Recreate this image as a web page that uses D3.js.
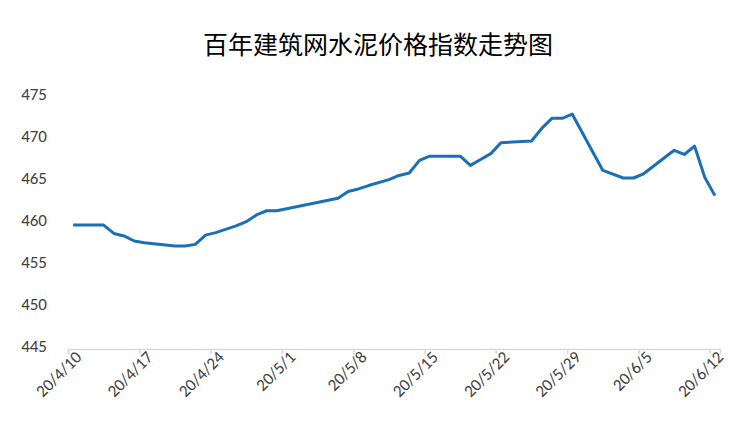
<!DOCTYPE html>
<html><head><meta charset="utf-8">
<script src="https://cdn.jsdelivr.net/npm/d3@7/dist/d3.min.js"></script>
<style>body{margin:0;background:#fff}svg{font-family:"Microsoft YaHei","Noto Sans CJK SC",sans-serif}</style>
</head><body><svg id="c" width="756" height="442"></svg>
<script>
const dates = ["2020-04-10","2020-04-13","2020-04-14","2020-04-15","2020-04-16","2020-04-17","2020-04-20","2020-04-21","2020-04-22","2020-04-23","2020-04-24","2020-04-26","2020-04-27","2020-04-28","2020-04-29","2020-04-30","2020-05-06","2020-05-07","2020-05-08","2020-05-09","2020-05-11","2020-05-12","2020-05-13","2020-05-14","2020-05-15","2020-05-18","2020-05-19","2020-05-20","2020-05-21","2020-05-22","2020-05-25","2020-05-26","2020-05-27","2020-05-28","2020-05-29","2020-06-01","2020-06-03","2020-06-04","2020-06-05","2020-06-08","2020-06-09","2020-06-10","2020-06-11","2020-06-12"];
const values = [459.4,459.4,458.4,458.1,457.5,457.3,456.9,456.9,457.1,458.2,458.5,459.3,459.8,460.6,461.1,461.1,462.6,463.4,463.7,464.1,464.8,465.3,465.6,467.1,467.6,467.6,466.5,467.2,467.9,469.2,469.4,470.9,472.1,472.1,472.6,465.9,465.0,465.0,465.5,468.3,467.8,468.8,465.1,462.9];
const yTicks = [445,450,455,460,465,470,475];
const xTickLabels = ["20/4/10","20/4/17","20/4/24","20/5/1","20/5/8","20/5/15","20/5/22","20/5/29","20/6/5","20/6/12"];
const title = "百年建筑网水泥价格指数走势图";

const svg = d3.select("#c");
const parse = d3.timeParse("%Y-%m-%d");
const t0 = parse("2020-04-10"), t1 = d3.timeDay.offset(t0, 64);
const x = d3.scaleTime().domain([t0, t1]).range([68, 720]);
const y = d3.scaleLinear().domain([445, 475]).range([346, 94]);

svg.append("text").attr("x", 378).attr("y", 54).attr("text-anchor", "middle")
  .attr("font-size", 25).attr("fill", "#000").text(title);

const tickDates = xTickLabels.map((_, i) => d3.timeDay.offset(t0, i * 7));
const xa = svg.append("g").attr("transform", "translate(0,349)")
  .call(d3.axisBottom(x).tickValues(tickDates).tickSize(5)
    .tickFormat((d, i) => xTickLabels[i]));
xa.select(".domain").attr("stroke", "#d9d9d9").attr("stroke-width", 1.5);
xa.selectAll(".tick line").attr("stroke", "#d9d9d9").attr("stroke-width", 1.5);
xa.selectAll("text").attr("font-size", 17).attr("fill", "#404040")
  .attr("text-anchor", "end").attr("dx", "0.2em").attr("dy", "0.5em")
  .attr("transform", "rotate(-45)");
xa.selectAll(".tick text").attr("font-family", "Calibri,Carlito,'Liberation Sans',sans-serif");

const ya = svg.append("g").attr("transform", "translate(50,0)")
  .call(d3.axisLeft(y).tickValues(yTicks).tickSize(0));
ya.select(".domain").remove();
ya.selectAll("text").attr("font-size", 17).attr("fill", "#404040")
  .attr("font-family", "Calibri,Carlito,'Liberation Sans',sans-serif");

const pts = dates.map((d, i) => [d3.timeHour.offset(parse(d), 12), values[i]]);
svg.append("path").datum(pts)
  .attr("fill", "none").attr("stroke", "#1a70b8").attr("stroke-width", 3)
  .attr("stroke-linejoin", "round")
  .attr("d", d3.line().x(d => x(d[0])).y(d => y(d[1])));
</script></body></html>
